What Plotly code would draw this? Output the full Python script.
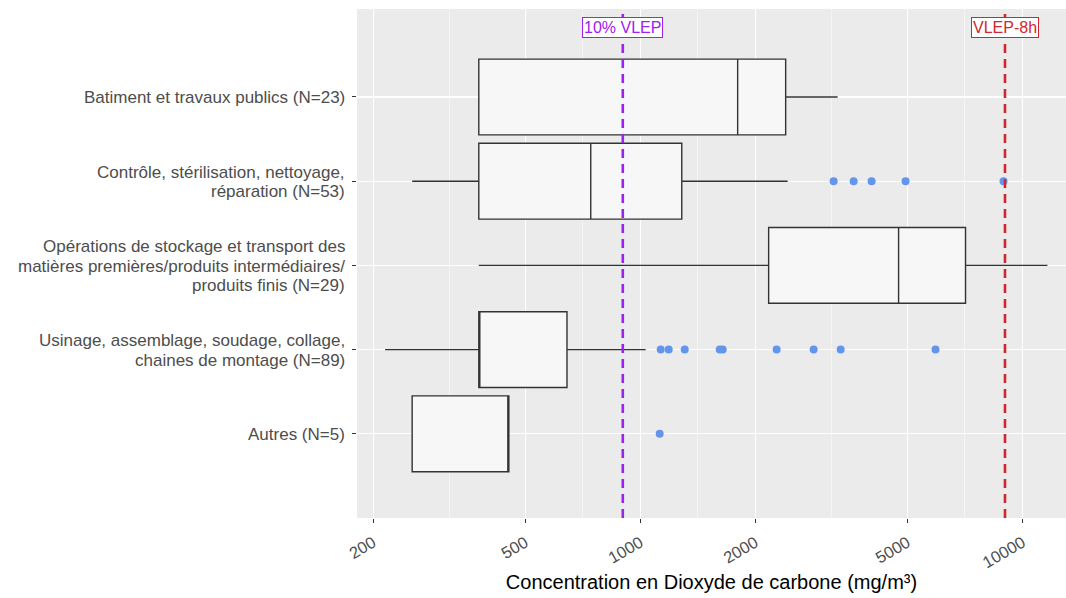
import numpy as np
import plotly.graph_objects as go

# ---- data ----
categories = [
    "Autres (N=5)",
    "Usinage, assemblage, soudage, collage,<br>chaines de montage (N=89)",
    "Opérations de stockage et transport des<br>matières premières/produits intermédiaires/<br>produits finis (N=29)",
    "Contrôle, stérilisation, nettoyage,<br>réparation (N=53)",
    "Batiment et travaux publics (N=23)",
]
lower_fence = [253, 215, 378, 253, 378]
q1_values = [253, 378, 2167, 378, 378]
median_values = [453, 378, 4741, 742, 1798]
q3_values = [453, 643, 7096, 1284, 2401]
upper_fence = [453, 1033, 11625, 2430, 3284]

outliers_autres = [1124]
outliers_usinage = [1131, 1187, 1307, 1614, 1643, 2274, 2842, 3344, 5922]
outliers_controle = [3206, 3616, 4029, 4945, 8920]

vlep_10 = 900
vlep_8h = 9000
vlep_labels = ["10% VLEP", "VLEP-8h"]

tick_values = [200, 500, 1000, 2000, 5000, 10000]
tick_labels = ["200", "500", "1000", "2000", "5000", "10000"]
minor_values = [316.2, 707.1, 1414.2, 3162.3, 7071.1]

x_title = "Concentration en Dioxyde de carbone (mg/m³)"

FONT = "Liberation Sans, Arial, sans-serif"

# ---- figure ----
fig = go.Figure()

fig.add_trace(go.Box(
    y=list(range(len(categories))),
    q1=q1_values, median=median_values, q3=q3_values,
    lowerfence=lower_fence, upperfence=upper_fence,
    orientation="h",
    boxpoints=False,
    whiskerwidth=0,
    width=0.9,
    fillcolor="#F7F7F7",
    line=dict(color="#333333", width=1.4),
    showlegend=False,
    hoverinfo="skip",
))

out_x = outliers_autres + outliers_usinage + outliers_controle
out_y = ([0] * len(outliers_autres)
         + [1] * len(outliers_usinage)
         + [3] * len(outliers_controle))
fig.add_trace(go.Scatter(
    x=out_x, y=out_y, mode="markers",
    marker=dict(color="#6495ED", size=8),
    showlegend=False, hoverinfo="skip",
))

line_colors = ["#A020F0", "#D2262E"]
for val, col in zip([vlep_10, vlep_8h], line_colors):
    fig.add_trace(go.Scatter(
        x=[val, val], y=[0, 1], yaxis="y2", mode="lines",
        line=dict(color=col, width=2.6, dash="9px,6px"),
        showlegend=False, hoverinfo="skip",
    ))

for val, col, lab in zip([vlep_10, vlep_8h], line_colors, vlep_labels):
    fig.add_annotation(
        x=np.log10(val), xref="x", y=0.9627, yref="paper",
        text=lab, showarrow=False,
        font=dict(family=FONT, size=16, color=col),
        bgcolor="white", bordercolor=col, borderwidth=1, borderpad=1,
        xanchor="center", yanchor="middle",
    )

# category labels, one text line per annotation (ggplot-like tight line height)
line_gap = 19.5
for idx, cat in enumerate(categories):
    lines = cat.split("<br>")
    n = len(lines)
    for i, ln in enumerate(lines):
        fig.add_annotation(
            x=0, xref="paper", xanchor="right", xshift=-10,
            y=idx, yref="y", yanchor="middle",
            yshift=((n - 1) / 2 - i) * line_gap - 1,
            text=ln, showarrow=False,
            font=dict(family=FONT, size=17, color="#4D4D4D"),
        )

fig.update_layout(
    width=1066, height=598,
    margin=dict(l=357, r=0, t=9, b=80),
    paper_bgcolor="white",
    plot_bgcolor="#EBEBEB",
    boxgap=0.1, boxgroupgap=0,
    font=dict(family=FONT, color="#4D4D4D"),
    xaxis=dict(
        type="log",
        range=[2.2588, 4.1139],
        tickmode="array", tickvals=tick_values, ticktext=tick_labels,
        tickangle=-30,
        tickfont=dict(size=16.5, color="#4D4D4D"),
        ticklabelstandoff=4,
        ticks="outside", ticklen=4, tickcolor="#333333", tickwidth=1,
        showgrid=True, gridcolor="white", gridwidth=1.2,
        minor=dict(tickvals=minor_values, showgrid=True, gridcolor="white",
                   gridwidth=0.5, ticks=""),
        zeroline=False, showline=False,
        title=dict(text=x_title, font=dict(family=FONT, size=20, color="black"), standoff=4),
    ),
    yaxis=dict(
        tickmode="array", tickvals=list(range(len(categories))),
        showticklabels=False,
        range=[-1.0, 5.045],
        ticks="outside", ticklen=4, tickcolor="#333333", tickwidth=1,
        showgrid=True, gridcolor="white", gridwidth=1.2,
        zeroline=False, showline=False,
    ),
    yaxis2=dict(overlaying="y", range=[0, 1], visible=False, fixedrange=True),
)

fig.write_html(
    "out.html",
    config={"displayModeBar": False, "staticPlot": True},
    post_script="document.body.style.margin='0';document.body.style.overflow='hidden';",
)
